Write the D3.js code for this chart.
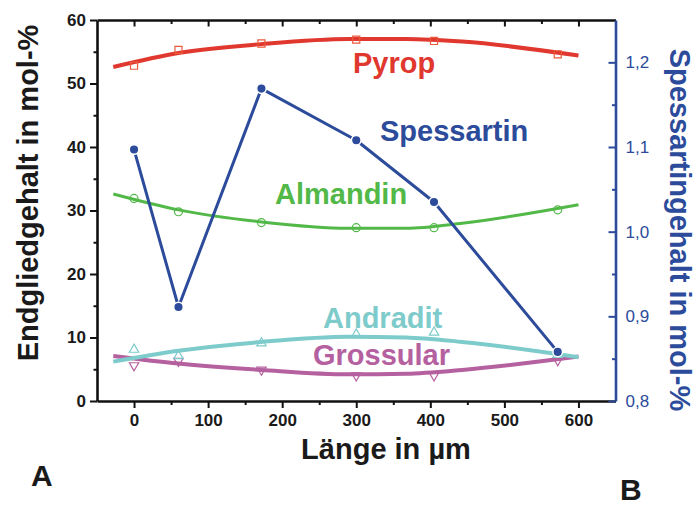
<!DOCTYPE html>
<html>
<head>
<meta charset="utf-8">
<script src="https://cdn.jsdelivr.net/npm/d3@7"></script>
<style>
  body { margin: 0; background: #fff; }
  svg { display: block; }
  text { font-family: "Liberation Sans", Arial, Helvetica, sans-serif; }
</style>
</head>
<body>
<svg id="chart" width="696" height="506"></svg>
<script>
// Measurement positions along the profile (µm)
const positions = [0, 60, 172, 300, 405, 572];

// End-member contents (mol-%) at each position
const pyrop     = [52.8, 55.3, 56.3, 56.9, 56.7, 54.6];
const almandin  = [31.9, 29.8, 28.1, 27.3, 27.3, 30.1];
const andradit  = [8.1, 7.1, 9.1, 10.5, 10.8, 7.3];
const grossular = [5.6, 6.3, 4.9, 4.0, 4.0, 6.4];
// Spessartine content (mol-%), right axis
const spessartin = [1.097, 0.911, 1.169, 1.108, 1.035, 0.858];

// Fitted trend curves (position, value)
const fitX          = [-28, 60, 172, 290, 367, 443, 600];
const pyropFit      = [52.6, 54.8, 56.2, 57.0, 57.0, 56.6, 54.4];
const almandinFit   = [32.6, 30.1, 28.2, 27.2, 27.2, 28.0, 30.9];
const andraditFit   = [6.2, 7.9, 9.3, 10.1, 10.0, 9.3, 6.9];
const grossularFit  = [7.1, 5.9, 4.9, 4.2, 4.3, 4.9, 7.0];

// Axis ticks
const xTicks       = [0, 100, 200, 300, 400, 500, 600];
const xMinorTicks  = [50, 150, 250, 350, 450, 550];
const yTicks       = [0, 10, 20, 30, 40, 50, 60];
const yMinorTicks  = [5, 15, 25, 35, 45, 55];
const y2Ticks      = [0.8, 0.9, 1.0, 1.1, 1.2];
const y2TickLabels = ["0,8", "0,9", "1,0", "1,1", "1,2"];
const y2MinorTicks = [0.85, 0.95, 1.05, 1.15];

const colors = {
  pyrop: "#e0382f", pyropMark: "#ea5a3c",
  almandin: "#52b848",
  andradit: "#7ecbcb",
  grossular: "#b5609f",
  spessartin: "#2c4b9b"
};

const svg = d3.select("#chart");
const plotLeft = 97, plotRight = 615.5, plotTop = 20, plotBottom = 401;

const x  = d3.scaleLinear().domain([-50, 650]).range([plotLeft, plotRight]);
const y  = d3.scaleLinear().domain([0, 60]).range([plotBottom, plotTop]);
const y2 = d3.scaleLinear().domain([0.8, 1.25]).range([plotBottom, plotTop]);

// ---- axes ----
function styleAxis(g, color, width) {
  g.select(".domain").attr("stroke", color).attr("stroke-width", width);
  g.selectAll(".tick line").attr("stroke", color).attr("stroke-width", 2);
}
function minorTicks(g, color) {
  g.select(".domain").remove();
  g.selectAll("line").attr("stroke", color).attr("stroke-width", 2);
}

// bottom
const gx = svg.append("g").attr("transform", `translate(0,${plotBottom})`)
  .call(d3.axisBottom(x).tickValues(xTicks).tickSize(7).tickSizeOuter(0).tickPadding(6));
styleAxis(gx, "#111", 2.6);
gx.selectAll(".tick text").attr("font-size", 17).attr("font-weight", "bold").attr("fill", "#1a1a1a");
svg.append("g").attr("transform", `translate(0,${plotBottom})`)
  .call(d3.axisBottom(x).tickValues(xMinorTicks).tickSize(4).tickFormat(""))
  .call(g => minorTicks(g, "#111"));

// top (inward ticks)
const gt = svg.append("g").attr("transform", `translate(0,${plotTop})`)
  .call(d3.axisBottom(x).tickValues(xTicks).tickSize(6.5).tickSizeOuter(0).tickFormat(""));
styleAxis(gt, "#111", 2.6);
svg.append("g").attr("transform", `translate(0,${plotTop})`)
  .call(d3.axisBottom(x).tickValues(xMinorTicks).tickSize(4).tickFormat(""))
  .call(g => minorTicks(g, "#111"));

// left
const gy = svg.append("g").attr("transform", `translate(${plotLeft},0)`)
  .call(d3.axisLeft(y).tickValues(yTicks).tickSize(7).tickSizeOuter(0).tickPadding(4));
styleAxis(gy, "#111", 2.6);
gy.selectAll(".tick text").attr("font-size", 17).attr("font-weight", "bold").attr("fill", "#1a1a1a");
svg.append("g").attr("transform", `translate(${plotLeft},0)`)
  .call(d3.axisLeft(y).tickValues(yMinorTicks).tickSize(3.5).tickFormat(""))
  .call(g => minorTicks(g, "#111"));

// right (inward ticks, labels outside)
const gy2 = svg.append("g").attr("transform", `translate(${plotRight},0)`)
  .call(d3.axisLeft(y2).tickValues(y2Ticks).tickSize(7).tickSizeOuter(0)
    .tickFormat((d, i) => y2TickLabels[i]));
styleAxis(gy2, colors.spessartin, 2.6);
gy2.selectAll(".tick text").attr("font-size", 17).attr("fill", colors.spessartin)
  .attr("text-anchor", "start").attr("x", 10);
svg.append("g").attr("transform", `translate(${plotRight},0)`)
  .call(d3.axisLeft(y2).tickValues(y2MinorTicks).tickSize(3.5).tickFormat(""))
  .call(g => minorTicks(g, colors.spessartin));

// ---- fitted curves ----
const fitLine = d3.line().x(d => x(d[0])).y(d => y(d[1])).curve(d3.curveMonotoneX);
const fits = [
  { v: grossularFit, c: colors.grossular, w: 4 },
  { v: andraditFit,  c: colors.andradit,  w: 4 },
  { v: almandinFit,  c: colors.almandin,  w: 3 },
  { v: pyropFit,     c: colors.pyrop,     w: 4 }
];
fits.forEach(f => {
  svg.append("path")
    .datum(fitX.map((p, i) => [p, f.v[i]]))
    .attr("d", fitLine)
    .attr("fill", "none")
    .attr("stroke", f.c)
    .attr("stroke-width", f.w)
    .attr("stroke-linecap", "butt");
});

// ---- measured points (open markers) ----
const markerSets = [
  { v: grossular, c: colors.grossular, sym: d3.symbolTriangle, size: 38, rot: 180 },
  { v: andradit,  c: colors.andradit,  sym: d3.symbolTriangle, size: 38, rot: 0 },
  { v: almandin,  c: colors.almandin,  sym: d3.symbolCircle,   size: 50, rot: 0 },
  { v: pyrop,     c: colors.pyropMark, sym: d3.symbolSquare,   size: 50, rot: 0 }
];
markerSets.forEach(m => {
  svg.append("g").selectAll("path")
    .data(positions.map((p, i) => [p, m.v[i]]))
    .join("path")
    .attr("transform", d => `translate(${x(d[0])},${y(d[1])}) rotate(${m.rot})`)
    .attr("d", d3.symbol(m.sym, m.size))
    .attr("fill", "none")
    .attr("stroke", m.c)
    .attr("stroke-width", 1.2);
});

// ---- spessartine profile (right axis) ----
const spData = positions.map((p, i) => [p, spessartin[i]]);
svg.append("path")
  .datum(spData)
  .attr("d", d3.line().x(d => x(d[0])).y(d => y2(d[1])))
  .attr("fill", "none")
  .attr("stroke", colors.spessartin)
  .attr("stroke-width", 3)
  .attr("stroke-linejoin", "round");
svg.append("g").selectAll("circle")
  .data(spData)
  .join("circle")
  .attr("cx", d => x(d[0]))
  .attr("cy", d => y2(d[1]))
  .attr("r", 4.8)
  .attr("fill", colors.spessartin)
  .attr("stroke", "#fff")
  .attr("stroke-width", 1.5);

// ---- series labels ----
const labels = [
  { t: "Pyrop",      x: 353, y: 73,  c: colors.pyrop },
  { t: "Spessartin", x: 380, y: 141, c: colors.spessartin },
  { t: "Almandin",   x: 275, y: 204, c: colors.almandin },
  { t: "Andradit",   x: 323, y: 328, c: colors.andradit },
  { t: "Grossular",  x: 313, y: 365, c: colors.grossular }
];
svg.append("g").selectAll("text")
  .data(labels)
  .join("text")
  .attr("x", d => d.x).attr("y", d => d.y)
  .attr("fill", d => d.c)
  .attr("font-size", 29).attr("font-weight", "bold")
  .text(d => d.t);

// ---- axis titles ----
svg.append("text")
  .attr("transform", "translate(38,193) rotate(-90)")
  .attr("text-anchor", "middle")
  .attr("font-size", 29).attr("font-weight", "bold").attr("fill", "#1a1a1a")
  .text("Endgliedgehalt in mol-%");

svg.append("text")
  .attr("transform", "translate(670,230) rotate(90)")
  .attr("text-anchor", "middle")
  .attr("font-size", 29).attr("font-weight", "bold").attr("fill", colors.spessartin)
  .text("Spessartingehalt in mol-%");

svg.append("text")
  .attr("x", 386).attr("y", 459)
  .attr("text-anchor", "middle")
  .attr("font-size", 29).attr("font-weight", "bold").attr("fill", "#1a1a1a")
  .text("Länge in µm");

// ---- panel letters ----
svg.append("text").attr("x", 31).attr("y", 486)
  .attr("font-size", 30).attr("font-weight", "bold").attr("fill", "#1a1a1a").text("A");
svg.append("text").attr("x", 620).attr("y", 500)
  .attr("font-size", 30).attr("font-weight", "bold").attr("fill", "#1a1a1a").text("B");
</script>
</body>
</html>
